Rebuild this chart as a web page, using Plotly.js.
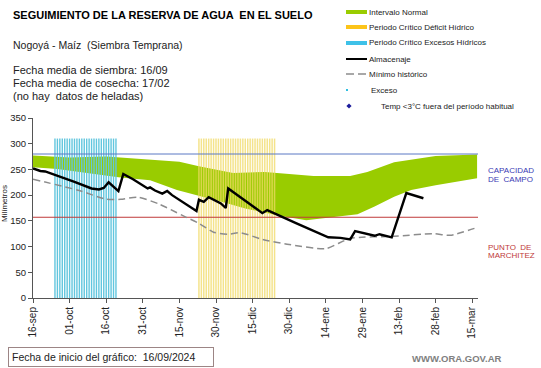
<!DOCTYPE html>
<html>
<head>
<meta charset="utf-8">
<script src="https://cdn.plot.ly/plotly-3.0.1.min.js"></script>
<style>
html,body{margin:0;padding:0;background:#fff;}
#chart{width:541px;height:368px;}
</style>
</head>
<body>
<div id="chart"></div>
<script>
// ---- Data ----
const FECHAS_ALM = ['2024-09-16','2024-09-19','2024-09-21','2024-09-26','2024-10-03','2024-10-10','2024-10-13','2024-10-15','2024-10-17','2024-10-21','2024-10-23','2024-10-27','2024-10-31','2024-11-02','2024-11-03','2024-11-05','2024-11-08','2024-11-10','2024-11-12','2024-11-17','2024-11-22','2024-11-23','2024-11-25','2024-11-27','2024-12-02','2024-12-04','2024-12-05','2024-12-19','2024-12-21','2025-01-02','2025-01-15','2025-01-20','2025-01-24','2025-01-26','2025-02-01','2025-02-03','2025-02-05','2025-02-10','2025-02-16','2025-02-23'];
const ALMACENAJE = [252,247,246,238,226,213,211,214,225,208,241,231,218,213,215,209,203,208,200,184,169,191,187,196,184,175,213,165,171,145,118,117,114,130,124,121,124,118,204,194];

const FECHAS_MIN = ['2024-09-16','2024-10-05','2024-10-16','2024-10-22','2024-10-29','2024-11-07','2024-11-16','2024-11-23','2024-11-29','2024-12-05','2024-12-10','2024-12-19','2024-12-30','2025-01-14','2025-01-24','2025-02-11','2025-02-27','2025-03-06','2025-03-17'];
const MINIMO = [231,209,192,192,196,182,161,145,128,124,127,114,104,96,116,120,125,122,137];

const FECHAS_SUP = ['2024-09-16','2024-10-01','2024-10-16','2024-10-31','2024-11-10','2024-11-15','2024-11-23','2024-12-07','2024-12-20','2025-01-09','2025-01-24','2025-01-31','2025-02-11','2025-02-28','2025-03-17'];
const BANDA_SUP = [277,273,275,270,268,265,256,243,245,237,237,245,264,276,279];

const FECHAS_INF = ['2024-09-16','2024-09-26','2024-10-21','2024-11-03','2024-11-14','2024-11-23','2024-12-03','2024-12-12','2024-12-19','2024-12-26','2025-01-06','2025-01-14','2025-01-27','2025-02-03','2025-02-11','2025-02-18','2025-02-28','2025-03-17'];
const BANDA_INF = [254,251,235,229,210,198,186,174,167,160,151,155,163,178,197,210,219,233];

const PERIODO_EXCESOS = ['2024-09-25','2024-10-20'];
const PERIODO_DEFICIT = ['2024-11-23','2024-12-24'];
const ALTURA_PERIODO = 310;

const CAPACIDAD_CAMPO = 280;
const PUNTO_MARCHITEZ = 157;

const TICK_FECHAS = ['2024-09-16','2024-10-01','2024-10-16','2024-10-31','2024-11-15','2024-11-30','2024-12-15','2024-12-30','2025-01-14','2025-01-29','2025-02-13','2025-02-28','2025-03-15'];
const TICK_TEXTOS = ['16-sep','01-oct','16-oct','31-oct','15-nov','30-nov','15-dic','30-dic','14-ene','29-ene','13-feb','28-feb','15-mar'];

const RANGO_X = ['2024-09-16','2025-03-17 09:00'];

// ---- helpers ----
function dias(desde, hasta){
  const out = [];
  let d = new Date(desde + 'T00:00:00Z');
  const e = new Date(hasta + 'T00:00:00Z');
  while (d <= e){ out.push(d.toISOString().slice(0,10)); d = new Date(d.getTime() + 86400000); }
  return out;
}
function franjas(periodo, h){
  const xs = [], ys = [];
  dias(periodo[0], periodo[1]).forEach(d => { xs.push(d, d, null); ys.push(0, h, null); });
  return {x: xs, y: ys};
}
const L = 33, T = 118, W = 445, H = 180;
const px = x => (x - L) / W;
const py = y => (T + H - y) / H;

const FONT = 'Liberation Sans, Arial, sans-serif';

const fx = franjas(PERIODO_EXCESOS, ALTURA_PERIODO);
const fd = franjas(PERIODO_DEFICIT, ALTURA_PERIODO);

const traces = [
  { // banda normal
    x: FECHAS_SUP.concat(FECHAS_INF.slice().reverse()),
    y: BANDA_SUP.concat(BANDA_INF.slice().reverse()),
    type: 'scatter', mode: 'lines', fill: 'toself', fillcolor: '#99cc00',
    line: {width: 0, color: '#99cc00'}, hoverinfo: 'skip', showlegend: false
  },
  { x: fx.x, y: fx.y, type: 'scatter', mode: 'lines',
    line: {color: '#62c6de', width: 1.4}, showlegend: false, hoverinfo: 'skip' },
  { x: fd.x, y: fd.y, type: 'scatter', mode: 'lines',
    line: {color: 'rgba(240,218,100,0.75)', width: 1.5}, showlegend: false, hoverinfo: 'skip' },
  { x: RANGO_X, y: [CAPACIDAD_CAMPO, CAPACIDAD_CAMPO], type: 'scatter', mode: 'lines',
    line: {color: '#5b78c4', width: 1}, showlegend: false, hoverinfo: 'skip' },
  { x: RANGO_X, y: [PUNTO_MARCHITEZ, PUNTO_MARCHITEZ], type: 'scatter', mode: 'lines',
    line: {color: '#c03a3a', width: 1}, showlegend: false, hoverinfo: 'skip' },
  { x: FECHAS_MIN, y: MINIMO, type: 'scatter', mode: 'lines', line: {color: '#8c8c8c', width: 1.5, dash: '7px,4px', shape: 'spline', smoothing: 0.6},
    showlegend: false },
  { x: FECHAS_ALM, y: ALMACENAJE, type: 'scatter', mode: 'lines', line: {color: '#000', width: 2.4},
    showlegend: false }
];

// legend (manual, compact)
const LEG = [
  {y: 12, kind: 'bar', color: '#99cc00', text: 'Intervalo Normal'},
  {y: 27, kind: 'bar', color: '#fcc419', text: 'Periodo Crítico Déficit Hídrico'},
  {y: 43, kind: 'bar', color: '#3ec1e8', text: 'Periodo Crítico Excesos Hídricos'},
  {y: 59, kind: 'line', color: '#000', text: 'Almacenaje'},
  {y: 74, kind: 'dash', color: '#8c8c8c', text: 'Mínimo histórico'},
  {y: 90, kind: 'dot', color: '#2fbfe0', text: 'Exceso'},
  {y: 106, kind: 'diamond', color: '#1c1c9c', text: 'Temp <3°C fuera del período habitual'}
];
const shapes = [];
const annotations = [];
LEG.forEach(it => {
  const ref = {xref: 'paper', yref: 'paper'};
  if (it.kind === 'bar') shapes.push(Object.assign({type: 'line', x0: px(346), x1: px(367), y0: py(it.y), y1: py(it.y), line: {color: it.color, width: 4}}, ref));
  if (it.kind === 'line') shapes.push(Object.assign({type: 'line', x0: px(346), x1: px(367), y0: py(it.y), y1: py(it.y), line: {color: it.color, width: 2}}, ref));
  if (it.kind === 'dash') shapes.push(Object.assign({type: 'line', x0: px(346), x1: px(367), y0: py(it.y), y1: py(it.y), line: {color: it.color, width: 1.5, dash: '8px,4px'}}, ref));
  if (it.kind === 'dot') shapes.push(Object.assign({type: 'rect', x0: px(346), x1: px(348), y0: py(it.y+1), y1: py(it.y-1), line: {width: 0}, fillcolor: it.color}, ref));
  if (it.kind === 'diamond') {
    const cx = 349, cy = it.y, r = 2.6;
    shapes.push(Object.assign({type: 'path', path: 'M' + px(cx) + ',' + py(cy - r) + ' L' + px(cx + r) + ',' + py(cy) + ' L' + px(cx) + ',' + py(cy + r) + ' L' + px(cx - r) + ',' + py(cy) + ' Z', line: {width: 0}, fillcolor: it.color}, ref));
  }
  const tx = it.kind === 'dot' ? 369 : (it.kind === 'diamond' ? 379 : 367);
  annotations.push({xref: 'paper', yref: 'paper', x: px(tx), y: py(it.y), xanchor: 'left', yanchor: 'middle',
    text: it.text, showarrow: false, font: {family: FONT, size: 8, color: '#222'}});
});

const ann = (x, y, text, font, extra) => Object.assign({xref: 'paper', yref: 'paper', x: px(x), y: py(y), xanchor: 'left', yanchor: 'middle', text: text, showarrow: false, font: Object.assign({family: FONT}, font)}, extra || {});

annotations.push(
  ann(11, 15, '<b>SEGUIMIENTO DE LA RESERVA DE AGUA  EN EL SUELO</b>', {size: 11, color: '#000'}),
  ann(11, 45, 'Nogoyá - Maíz  (Siembra Temprana)', {size: 10.5, color: '#222'}),
  ann(11, 70, 'Fecha media de siembra: 16/09', {size: 11, color: '#222'}),
  ann(11, 83, 'Fecha media de cosecha: 17/02', {size: 11, color: '#222'}),
  ann(11, 96, '(no hay  datos de heladas)', {size: 11, color: '#222'}),
  ann(486, 170, 'CAPACIDAD', {size: 8, color: '#3a3ab4'}),
  ann(486, 179, 'DE  CAMPO', {size: 8, color: '#3a3ab4'}),
  ann(486, 247, 'PUNTO  DE', {size: 8, color: '#c03a3a'}),
  ann(486, 255, 'MARCHITEZ', {size: 8, color: '#c03a3a'}),
  ann(8, 357, 'Fecha de inicio del gráfico:  16/09/2024&nbsp;&nbsp;&nbsp;&nbsp;&nbsp;', {size: 10.5, color: '#222'}, {bordercolor: '#9c8585', borderwidth: 1, borderpad: 3, bgcolor: '#fff'}),
  ann(410, 358, '<b>WWW.ORA.GOV.AR</b>', {size: 9.5, color: '#808080'}),
  {xref: 'paper', yref: 'paper', x: px(4), y: py(204), xanchor: 'center', yanchor: 'middle', textangle: -90,
   text: 'Milímetros', showarrow: false, font: {family: FONT, size: 8, color: '#222'}}
);

const layout = {
  width: 541, height: 368,
  margin: {l: L, r: 541 - L - W, t: T, b: 368 - T - H, pad: 0},
  paper_bgcolor: '#fff', plot_bgcolor: '#fff',
  showlegend: false,
  xaxis: {
    type: 'date', range: RANGO_X, tickmode: 'array', tickvals: TICK_FECHAS, ticktext: TICK_TEXTOS,
    tickangle: -90, ticks: 'outside', ticklen: 4, tickcolor: '#555', showline: true, linecolor: '#555', linewidth: 1,
    showgrid: false, zeroline: false, tickfont: {family: FONT, size: 10, color: '#222'}, fixedrange: true
  },
  yaxis: {
    range: [0, 350], tickvals: [0,50,100,150,200,250,300,350], ticks: 'outside', ticklen: 4, tickcolor: '#555',
    showline: true, linecolor: '#555', linewidth: 1, showgrid: false, zeroline: false,
    tickfont: {family: FONT, size: 9.5, color: '#222'}, fixedrange: true
  },
  shapes: shapes,
  annotations: annotations
};

Plotly.newPlot('chart', traces, layout, {staticPlot: true, displayModeBar: false});
</script>
</body>
</html>
